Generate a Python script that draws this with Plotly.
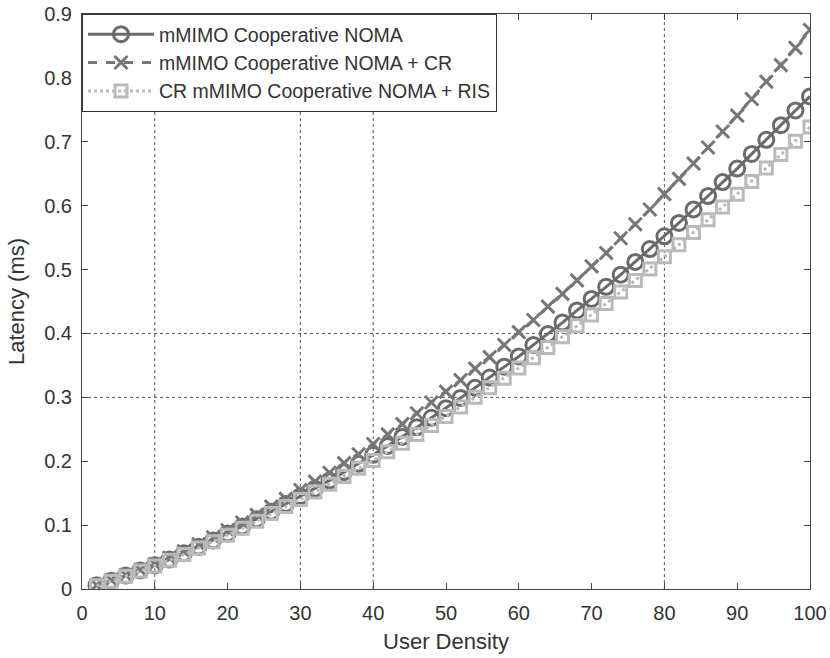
import plotly.graph_objects as go

user_density = list(range(2, 101, 2))

latency_noma = [
    0.006, 0.013, 0.021, 0.029, 0.037, 0.046, 0.056, 0.066, 0.076, 0.087,
    0.098, 0.109, 0.121, 0.133, 0.145, 0.157, 0.170, 0.183, 0.196, 0.210,
    0.224, 0.238, 0.253, 0.268, 0.283, 0.299, 0.315, 0.331, 0.348, 0.364,
    0.382, 0.399, 0.417, 0.436, 0.454, 0.473, 0.492, 0.512, 0.532, 0.552,
    0.573, 0.594, 0.615, 0.637, 0.658, 0.681, 0.703, 0.726, 0.749, 0.771,
]
latency_noma_cr = [
    0.006, 0.014, 0.022, 0.030, 0.039, 0.049, 0.059, 0.070, 0.081, 0.092,
    0.104, 0.116, 0.129, 0.141, 0.155, 0.168, 0.182, 0.197, 0.211, 0.227,
    0.242, 0.258, 0.275, 0.292, 0.309, 0.327, 0.345, 0.363, 0.382, 0.402,
    0.421, 0.442, 0.462, 0.483, 0.505, 0.526, 0.549, 0.571, 0.594, 0.618,
    0.642, 0.666, 0.691, 0.716, 0.741, 0.767, 0.794, 0.820, 0.847, 0.875,
]
latency_cr_ris = [
    0.005, 0.012, 0.020, 0.028, 0.036, 0.045, 0.054, 0.064, 0.074, 0.084,
    0.095, 0.106, 0.118, 0.129, 0.140, 0.152, 0.164, 0.176, 0.189, 0.201,
    0.215, 0.228, 0.242, 0.256, 0.270, 0.285, 0.300, 0.315, 0.330, 0.346,
    0.362, 0.378, 0.395, 0.412, 0.429, 0.447, 0.465, 0.483, 0.501, 0.520,
    0.539, 0.558, 0.578, 0.598, 0.618, 0.638, 0.659, 0.680, 0.701, 0.723,
]

series_names = [
    "mMIMO Cooperative NOMA",
    "mMIMO Cooperative NOMA + CR",
    "CR mMIMO Cooperative NOMA + RIS",
]
x_ticks = list(range(0, 101, 10))
y_ticks = [0, 0.1, 0.2, 0.3, 0.4, 0.5, 0.6, 0.7, 0.8, 0.9]
y_tick_labels = ["0", "0.1", "0.2", "0.3", "0.4", "0.5", "0.6", "0.7", "0.8", "0.9"]
grid_x = [10, 30, 40, 80]
grid_y = [0.3, 0.4]

FONT = "Liberation Sans, Arial, sans-serif"
AX = "#444444"
TXT = "#333333"

fig = go.Figure()
fig.add_trace(go.Scatter(
    x=user_density, y=latency_noma, name=series_names[0], mode="lines+markers",
    line=dict(color="#6b6b6b", width=3, dash="solid"),
    marker=dict(symbol="circle-open", size=15, color="#6b6b6b", line=dict(width=3, color="#6b6b6b")),
))
fig.add_trace(go.Scatter(
    x=user_density, y=latency_noma_cr, name=series_names[1], mode="lines+markers",
    line=dict(color="#777777", width=3, dash="dash"),
    marker=dict(symbol="x-thin-open", size=13, color="#777777", line=dict(width=3, color="#777777")),
))
fig.add_trace(go.Scatter(
    x=user_density, y=latency_cr_ris, name=series_names[2], mode="lines+markers",
    line=dict(color="#bababa", width=3, dash="dot"),
    marker=dict(symbol="square-open", size=12, color="#bababa", line=dict(width=3, color="#bababa")),
))

shapes = []
for gx in grid_x:
    shapes.append(dict(type="line", xref="x", yref="paper", x0=gx, x1=gx, y0=0, y1=1,
                       line=dict(color="#555555", width=1, dash="dot"), layer="below"))
for gy in grid_y:
    shapes.append(dict(type="line", xref="paper", yref="y", x0=0, x1=1, y0=gy, y1=gy,
                       line=dict(color="#555555", width=1, dash="dot"), layer="below"))

fig.update_layout(
    width=830, height=658,
    margin=dict(l=82, r=20, t=14, b=69),
    paper_bgcolor="white", plot_bgcolor="white",
    font=dict(family=FONT, size=19, color=TXT),
    shapes=shapes,
    showlegend=True,
    legend=dict(
        x=0, y=1, xanchor="left", yanchor="top",
        bgcolor="white", bordercolor="#333333", borderwidth=1,
        font=dict(family=FONT, size=19.5, color=TXT),
        itemwidth=66, tracegroupgap=0,
    ),
    xaxis=dict(
        range=[0, 100], tickmode="array", tickvals=x_ticks, automargin=False,
        ticks="inside", ticklen=6, tickcolor=AX, showline=True, linecolor=AX, linewidth=1,
        mirror="ticks", showgrid=False, zeroline=False, ticklabelstandoff=6,
        title=dict(text="User Density", font=dict(size=22, color=TXT), standoff=10),
        tickfont=dict(size=20, color=TXT),
    ),
    yaxis=dict(
        range=[0, 0.9], tickmode="array", tickvals=y_ticks, ticktext=y_tick_labels, automargin=False,
        ticks="inside", ticklen=6, tickcolor=AX, showline=True, linecolor=AX, linewidth=1,
        mirror="ticks", showgrid=False, zeroline=False, ticklabelstandoff=5,
        title=dict(text="Latency (ms)", font=dict(size=22, color=TXT), standoff=13),
        tickfont=dict(size=20, color=TXT),
    ),
)

fig.write_html(
    "out.html",
    config={"displayModeBar": False},
    post_script="document.body.style.margin='0';document.body.style.padding='0';",
)
